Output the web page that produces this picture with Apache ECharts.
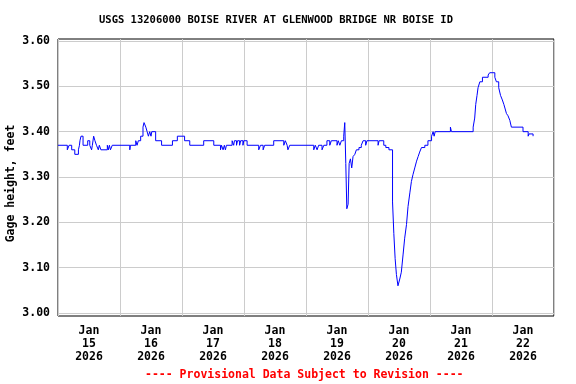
<!DOCTYPE html>
<html>
<head>
<meta charset="utf-8">
<script src="https://cdn.jsdelivr.net/npm/echarts@6/dist/echarts.min.js"></script>
<style>html,body{margin:0;padding:0;background:#fff}#c{width:576px;height:384px}</style>
</head>
<body>
<div id="c"></div>
<script>
// Hours since Jan 15 2026 00:00 at which the reading changes, and the new gage height (feet)
const hours = [
  0, 3.6, 4.3, 5.3, 6.5, 7.9, 8.3, 8.5, 8.9, 9.7, 11.5, 12.3, 13.0, 13.3, 13.8, 14.3, 14.9, 15.6, 16.0, 16.6,
  19.1, 19.5, 19.9, 20.3, 21.0, 27.8, 28.0, 30.1, 30.6, 31.1, 32.0, 32.9, 33.3, 34.0, 34.5, 35.0, 35.5, 36.0, 36.3,
  37.8, 40.1, 44.3, 46.2, 49.0, 51.0, 56.4, 60.3, 62.9, 63.3, 63.9, 64.4, 64.8, 65.2, 67.4, 68.0, 68.3, 69.1, 69.5,
  70.3, 70.7, 71.6, 71.9, 73.2, 77.7, 78.4, 79.4, 80.0, 83.5, 87.4, 88.0, 88.7, 89.0, 89.7, 99.0, 99.6, 100.3,
  100.9, 102.2, 102.9, 104.1, 105.2, 105.8, 108.0, 108.5, 109.1, 109.7, 110.6, 111.0, 111.4, 111.8, 112.3, 112.7,
  113.2, 113.7, 114.2, 114.9, 115.5, 116.5, 117.4, 118.1, 119.1, 119.6, 123.9, 124.3, 126.1, 126.9, 128.1, 129.5,
  130.0, 130.5, 131.0, 131.6, 132.3, 132.9, 133.6, 134.2, 134.9, 135.5, 136.2, 136.8, 137.4, 138.1, 138.8, 139.4,
  140.0, 140.7, 142.0, 143.2, 144.6, 145.2, 145.6, 146.0, 151.9, 152.3, 160.7, 161.3, 161.7, 162.2, 162.6, 163.3,
  164.3, 166.5, 167.1, 169.1, 169.7, 170.6, 171.3, 172.0, 172.6, 173.1, 173.6, 174.2, 174.9, 175.5, 180.0, 182.0,
  182.3, 183.9
];
const gage = [
  3.37, 3.36, 3.37, 3.36, 3.35, 3.36, 3.37, 3.38, 3.39, 3.37, 3.38, 3.37, 3.36, 3.37, 3.39, 3.38, 3.37, 3.36, 3.37, 3.36,
  3.37, 3.36, 3.37, 3.36, 3.37, 3.36, 3.37, 3.38, 3.37, 3.38, 3.39, 3.41, 3.42, 3.41, 3.40, 3.39, 3.40, 3.39, 3.40,
  3.38, 3.37, 3.38, 3.39, 3.38, 3.37, 3.38, 3.37, 3.36, 3.37, 3.36, 3.37, 3.36, 3.37, 3.38, 3.37, 3.38, 3.37, 3.38,
  3.37, 3.38, 3.37, 3.38, 3.37, 3.36, 3.37, 3.36, 3.37, 3.38, 3.37, 3.38, 3.37, 3.36, 3.37, 3.36, 3.37, 3.36,
  3.37, 3.36, 3.37, 3.38, 3.37, 3.38, 3.37, 3.38, 3.37, 3.38, 3.39, 3.42, 3.33, 3.23, 3.24, 3.33,
  3.34, 3.32, 3.345, 3.35, 3.36, 3.365, 3.37, 3.38, 3.37, 3.38, 3.37, 3.38, 3.37, 3.365, 3.36, 3.245,
  3.175, 3.12, 3.085, 3.06, 3.075, 3.09, 3.13, 3.165, 3.195, 3.235, 3.265, 3.29, 3.305, 3.32, 3.335, 3.345,
  3.355, 3.365, 3.37, 3.38, 3.39, 3.40, 3.39, 3.40, 3.41, 3.40, 3.41, 3.43, 3.46, 3.48, 3.497, 3.51,
  3.52, 3.525, 3.53, 3.52, 3.51, 3.497, 3.48, 3.47, 3.46, 3.45, 3.44, 3.435, 3.425, 3.41, 3.40, 3.39,
  3.395, 3.39
];
const dayLabels = ['Jan\n15\n2026','Jan\n16\n2026','Jan\n17\n2026','Jan\n18\n2026','Jan\n19\n2026','Jan\n20\n2026','Jan\n21\n2026','Jan\n22\n2026'];
const yTicks = [3.00, 3.10, 3.20, 3.30, 3.40, 3.50, 3.60];
const titleText = 'USGS 13206000 BOISE RIVER AT GLENWOOD BRIDGE NR BOISE ID';
const footerText = '---- Provisional Data Subject to Revision ----';

const mono = 'DejaVu Sans Mono';
const chart = echarts.init(document.getElementById('c'), null, {renderer: 'canvas'});
chart.setOption({
  animation: false,
  backgroundColor: '#ffffff',
  title: [
    {text: titleText, left: 94, top: 10, textStyle: {fontFamily: mono, fontWeight: 'bold', fontSize: 10.5, color: '#000'}},
    {text: footerText, left: 140, top: 364, textStyle: {fontFamily: mono, fontWeight: 'bold', fontSize: 11.5, color: '#ff0000'}}
  ],
  grid: {left: 58, top: 39, width: 496, height: 277, show: true, borderColor: '#000', borderWidth: 1,
    backgroundColor: 'transparent', containLabel: false, outerBoundsMode: 'none'},
  xAxis: [
    {type: 'value', min: 0, max: 192, interval: 24, position: 'bottom',
     axisLine: {show: false}, axisTick: {show: false}, axisLabel: {show: false},
     splitLine: {show: true, lineStyle: {color: '#cccccc', width: 1}}},
    {type: 'category', data: dayLabels, boundaryGap: true, position: 'bottom',
     axisLine: {show: false}, axisTick: {show: false}, splitLine: {show: false},
     axisLabel: {margin: 9, fontFamily: mono, fontWeight: 'bold', fontSize: 11.5, lineHeight: 13, color: '#000', align: 'center'}}
  ],
  yAxis: {
    type: 'value', min: 2.9934, max: 3.6044,
    name: 'Gage height, feet', nameLocation: 'middle', nameGap: 41, nameMoveOverlap: false,
    nameTextStyle: {fontFamily: mono, fontWeight: 'bold', fontSize: 11.5, color: '#000', padding: [0, 12, 0, 0]},
    axisLine: {show: false},
    axisTick: {show: false, customValues: yTicks},
    axisLabel: {customValues: yTicks, margin: 8, fontFamily: mono, fontWeight: 'bold', fontSize: 11.5, color: '#000',
      verticalAlign: 'middle', padding: [7, 0, 0, 0], formatter: v => v.toFixed(2)},
    splitLine: {show: true, lineStyle: {color: '#cccccc', width: 1}}
  },
  series: [{
    type: 'line', xAxisIndex: 0, step: 'end', showSymbol: false,
    data: hours.map((h, i) => [h, gage[i]]),
    lineStyle: {color: '#0000ff', width: 1}
  }]
});
</script>
</body>
</html>
